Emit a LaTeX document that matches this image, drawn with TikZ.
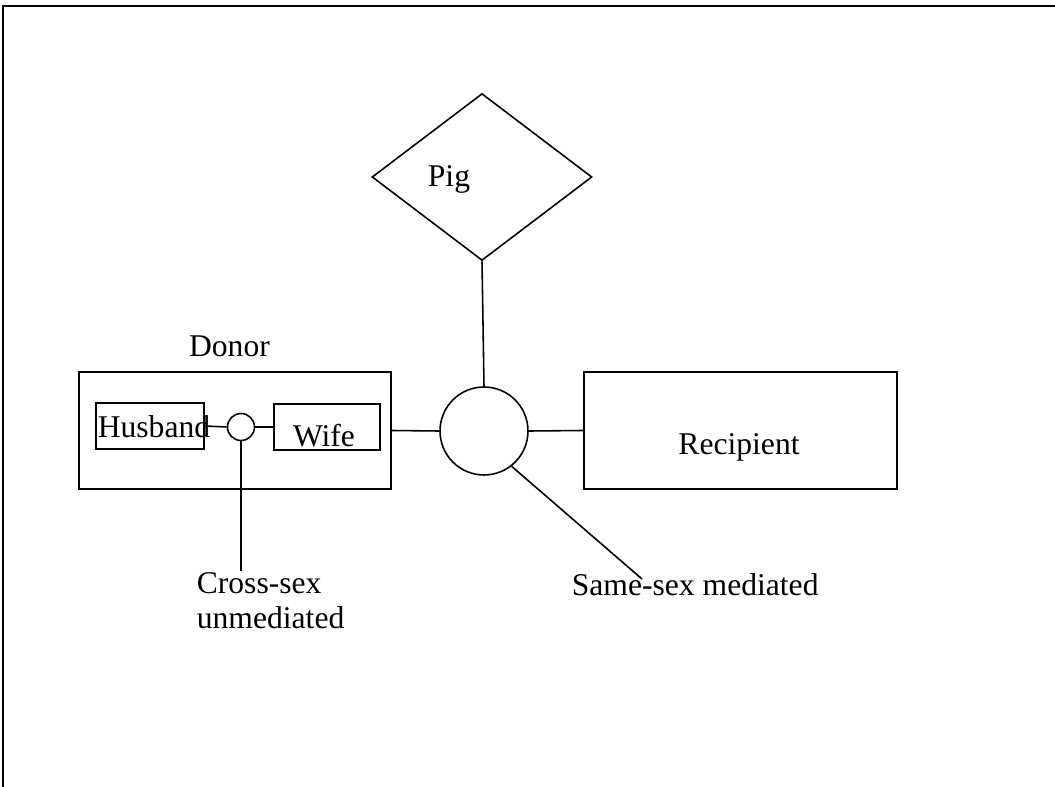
\documentclass[tikz,border=0pt]{standalone}
\usepackage{fontspec}
\setmainfont{Liberation Serif}
\usetikzlibrary{shapes.geometric}
\begin{document}
\begin{tikzpicture}[x=0.02cm, y=-0.02cm, line width=0.9pt,
    box/.style={draw, rectangle, inner sep=0pt},
    ring/.style={draw, circle, inner sep=0pt},
    lbl/.style={inner sep=0pt, font=\fontsize{18}{20}\selectfont}]
    \useasboundingbox (0,0) rectangle (1055,787);
    % frame: top and left edge only
    \draw (3,787) -- (3,6) -- (1055,6);
    % pig diamond with its text
    \node[draw, diamond, inner sep=0pt, aspect=1.32, minimum width=4.4cm, minimum height=3.34cm] (pig) at (482,177) {};
    \node[lbl, anchor=base] (pigtext) at (449,187) {Pig};
    % central joint and the two parties
    \node[ring, minimum size=1.76cm] (hub) at (484,431) {};
    \node[box, minimum width=6.24cm, minimum height=2.34cm] (donor) at (235,430.5) {};
    \node[lbl, anchor=base] (donortext) at (229.5,357) {Donor};
    \node[box, minimum width=6.26cm, minimum height=2.34cm] (recipient) at (740.5,430.5) {};
    \node[lbl, anchor=base] (recipienttext) at (739,454) {Recipient};
    % inside the donor
    \node[box, minimum width=2.16cm, minimum height=0.93cm] (husband) at (150,426) {};
    \node[lbl, anchor=base] (husbandtext) at (154,437) {Husband};
    \node[ring, minimum size=0.54cm] (couple) at (241,427) {};
    \node[box, minimum width=2.12cm, minimum height=0.92cm] (wife) at (327,427) {};
    \node[lbl, anchor=base] (wifetext) at (324,446) {Wife};
    % labels of the two links
    \node[lbl, anchor=north west, align=left] (cross) at (196,572) {Cross-sex\\unmediated};
    \node[lbl, anchor=base west] (same) at (571,595) {Same-sex mediated};
    \coordinate (crossend) at (241,571);
    \coordinate (sameend) at (642,579);
    % connectors
    \draw (pig.south) -- (hub.north);
    \draw (donor.east) -- (hub.west);
    \draw (hub.east) -- (recipient.west);
    \draw (hub.-52) -- (sameend);
    \draw (husband.east) -- (couple.west);
    \draw (couple.east) -- (wife.west);
    \draw (couple.south) -- (crossend);
\end{tikzpicture}
\end{document}
